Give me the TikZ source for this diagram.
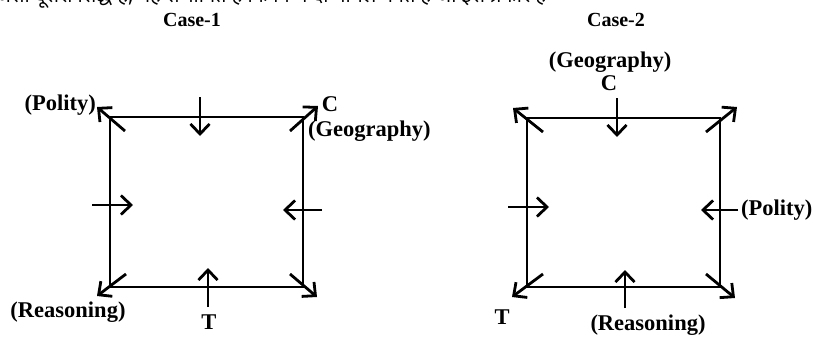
\documentclass[tikz,border=0pt]{standalone}
\usepackage{fontspec}
\setmainfont{Liberation Serif}
\newfontfamily\hindifont[Script=Devanagari]{Noto Sans}
\usetikzlibrary{arrows.meta}
\tikzset{
  edge/.style={line width=2.8pt, line join=miter},
  arr/.style={line width=2.8pt, -{Straight Barb[length=10pt,width=19pt]}},
  lbl/.style={inner sep=0pt, font=\fontsize{22.5}{26}\selectfont\bfseries},
  ttl/.style={inner sep=0pt, font=\fontsize{20}{22}\selectfont\bfseries},
}
\begin{document}
\begin{tikzpicture}[x=1pt,y=-1pt]
\useasboundingbox (0,0) rectangle (819,337);
\clip (0,0) rectangle (819,337);
\node[anchor=base west, inner sep=0pt, font=\fontsize{20}{22}\selectfont\hindifont] (hindi) at (-4,3) {जैसा दूसरा सिद्ध है, यह संभावित है कि निम्न दो मामले बनते हैं जो इस प्रकार हैं};
% titles
\node[ttl] (t1) at (192,20) {Case-1};
\node[ttl] (t2) at (616,20) {Case-2};
% ---------- Case 1 ----------
\coordinate (a1) at (110,117); \coordinate (b1) at (303,117);
\coordinate (c1) at (303,287); \coordinate (d1) at (110,287);
\draw[edge] (a1) -- (b1) -- (c1) -- (d1) -- cycle;
\coordinate (p1s) at (125,131); \coordinate (p1e) at (97,107);
\coordinate (q1s) at (290,131); \coordinate (q1e) at (318,106);
\coordinate (r1s) at (126,274); \coordinate (r1e) at (97,296);
\coordinate (s1s) at (290,274); \coordinate (s1e) at (317,297);
\draw[arr] (p1s) -- (p1e);
\draw[arr] (q1s) -- (q1e);
\draw[arr] (r1s) -- (r1e);
\draw[arr] (s1s) -- (s1e);
\coordinate (u1s) at (200,97); \coordinate (u1e) at (200,136);
\coordinate (v1s) at (208,307); \coordinate (v1e) at (208,268);
\coordinate (w1s) at (92,205); \coordinate (w1e) at (133,205);
\coordinate (x1s) at (322,210); \coordinate (x1e) at (283,210);
\draw[arr] (u1s) -- (u1e);
\draw[arr] (v1s) -- (v1e);
\draw[arr] (w1s) -- (w1e);
\draw[arr] (x1s) -- (x1e);
\node[lbl, anchor=east] (pol1) at (96,105) {(Polity)};
\node[lbl] (c1l) at (330,104) {C};
\node[lbl, anchor=west] (geo1) at (308,131) {(Geography)};
\node[lbl] (rea1) at (68,312) {(Reasoning)};
\node[lbl] (t1l) at (209,322) {T};
% ---------- Case 2 ----------
\coordinate (a2) at (527,118); \coordinate (b2) at (720,118);
\coordinate (c2) at (720,287); \coordinate (d2) at (527,287);
\draw[edge] (a2) -- (b2) -- (c2) -- (d2) -- cycle;
\coordinate (p2s) at (543,132); \coordinate (p2e) at (513,108);
\coordinate (q2s) at (706,132); \coordinate (q2e) at (737,107);
\coordinate (r2s) at (543,274); \coordinate (r2e) at (512,297);
\coordinate (s2s) at (706,274); \coordinate (s2e) at (735,298);
\draw[arr] (p2s) -- (p2e);
\draw[arr] (q2s) -- (q2e);
\draw[arr] (r2s) -- (r2e);
\draw[arr] (s2s) -- (s2e);
\coordinate (u2s) at (617,98); \coordinate (u2e) at (617,137);
\coordinate (v2s) at (625,308); \coordinate (v2e) at (625,270);
\coordinate (w2s) at (508,207); \coordinate (w2e) at (549,207);
\coordinate (x2s) at (738,210); \coordinate (x2e) at (701,210);
\draw[arr] (u2s) -- (u2e);
\draw[arr] (v2s) -- (v2e);
\draw[arr] (w2s) -- (w2e);
\draw[arr] (x2s) -- (x2e);
\node[lbl] (geo2) at (610,62) {(Geography)};
\node[lbl] (c2l) at (609,83) {C};
\node[lbl, anchor=west] (pol2) at (741,210) {(Polity)};
\node[lbl] (t2l) at (502,317) {T};
\node[lbl] (rea2) at (648,325) {(Reasoning)};
\end{tikzpicture}
\end{document}
